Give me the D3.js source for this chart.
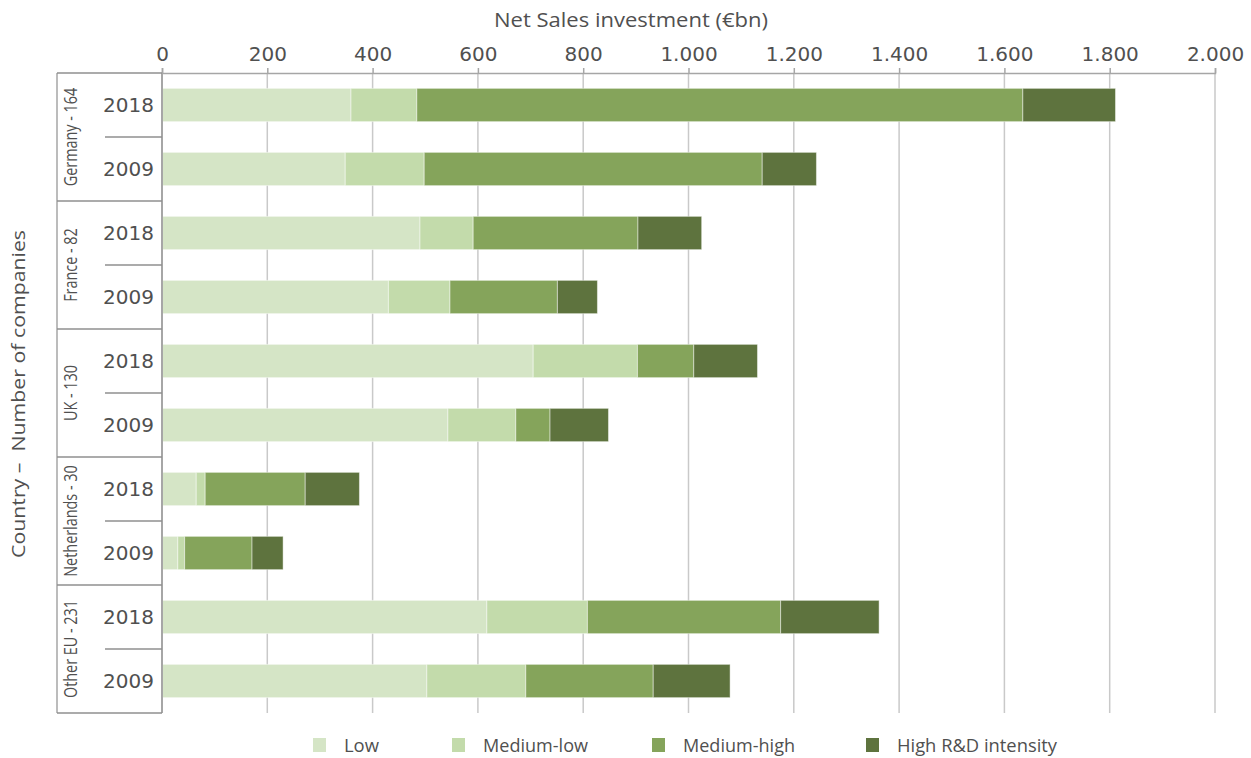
<!DOCTYPE html>
<html>
<head>
<meta charset="utf-8">
<script src="https://cdn.jsdelivr.net/npm/d3@7"></script>
<style>
  html, body { margin: 0; padding: 0; background: #fff; }
  svg { display: block; }
</style>
</head>
<body>
<svg id="chart" width="1251" height="758"></svg>
<script>
// ---- data ----
const countries = ["Germany - 164", "France - 82", "UK - 130", "Netherlands - 30", "Other EU - 231"];
const years = ["2018", "2009"];
const series = ["Low", "Medium-low", "Medium-high", "High R&D intensity"];
const low        = [359, 348, 490, 430, 705, 543, 65, 30, 617, 503];
const mediumLow  = [125, 150, 101, 117, 198, 129, 17, 13, 191, 188];
const mediumHigh = [1151, 642, 313, 204, 107, 65, 190, 128, 367, 242];
const high       = [176, 103, 121, 76, 121, 111, 103, 59, 187, 146];
const xTicks = [0, 200, 400, 600, 800, 1000, 1200, 1400, 1600, 1800, 2000];
const colors = ["#d5e5c6", "#c3dbab", "#85a45b", "#5e733e"];

(function () {
const rows = [];
countries.forEach((c, ci) => {
  years.forEach((yr, yi) => {
    const i = ci * 2 + yi;
    rows.push({ id: i, country: c, year: yr, Low: low[i], "Medium-low": mediumLow[i], "Medium-high": mediumHigh[i], "High R&D intensity": high[i] });
  });
});

const svg = d3.select("#chart");
const pL = 162, pR = 1215, pT = 73, pB = 713;
const txt = "#505050";
const numFont = "'DejaVu Sans', sans-serif";
const sansFont = "'Open Sans', sans-serif";

const x = d3.scaleLinear().domain([0, 2000]).range([pL, pR]);
const y = d3.scaleBand().domain(rows.map(r => r.id)).range([pT, pB]).paddingInner(0.48).paddingOuter(0.24);
const color = d3.scaleOrdinal().domain(series).range(colors);

// gridlines
svg.append("g").selectAll("line").data(xTicks.filter(t => t > 0)).join("line")
  .attr("x1", d => x(d)).attr("x2", d => x(d))
  .attr("y1", pT).attr("y2", pB)
  .attr("stroke", "#c9c9c9").attr("stroke-width", 1.5);

// stacked bars
const stack = d3.stack().keys(series)(rows);
svg.append("g").selectAll("g").data(stack).join("g")
  .attr("fill", d => color(d.key))
  .selectAll("rect").data(d => d).join("rect")
  .attr("x", d => x(d[0]))
  .attr("width", d => x(d[1]) - x(d[0]))
  .attr("y", d => y(d.data.id))
  .attr("height", y.bandwidth())
  .attr("stroke", "rgba(255,255,255,0.45)")
  .attr("stroke-width", 1);

// top axis
const xAxis = d3.axisTop(x).tickValues(xTicks).tickSize(5).tickPadding(7)
  .tickFormat(d => d3.format(",")(d).replace(/,/g, "."));
const gx = svg.append("g").attr("transform", `translate(0,${pT})`).call(xAxis);
gx.select(".domain").attr("stroke", "#a6a6a6").attr("stroke-width", 1.5);
gx.selectAll(".tick line").attr("stroke", "#a6a6a6").attr("stroke-width", 1.5);
gx.selectAll(".tick text").attr("fill", txt).attr("font-family", numFont).attr("font-size", 20);

// x title
svg.append("text").attr("x", 631).attr("y", 27)
  .attr("text-anchor", "middle").attr("fill", txt)
  .attr("font-family", sansFont).attr("font-size", 20)
  .attr("textLength", 274).attr("lengthAdjust", "spacingAndGlyphs")
  .text("Net Sales investment (€bn)");

// axis lines on the left
svg.append("line").attr("x1", pL).attr("x2", pL).attr("y1", pT).attr("y2", pB)
  .attr("stroke", "#a6a6a6").attr("stroke-width", 2);
svg.append("line").attr("x1", 57).attr("x2", 57).attr("y1", pT).attr("y2", pB)
  .attr("stroke", "#a6a6a6").attr("stroke-width", 1.5);

// category separators
const step = y.step();
const groupBounds = d3.range(countries.length + 1).map(i => y(i * 2) - y.paddingInner() * step / 2);
groupBounds[0] = pT; groupBounds[groupBounds.length - 1] = pB;
svg.append("g").selectAll("line").data(groupBounds).join("line")
  .attr("x1", 57).attr("x2", pL).attr("y1", d => d).attr("y2", d => d)
  .attr("stroke", "#8f8f8f").attr("stroke-width", 1.5);
const innerBounds = d3.range(countries.length).map(i => y(i * 2 + 1) - y.paddingInner() * step / 2);
svg.append("g").selectAll("line").data(innerBounds).join("line")
  .attr("x1", 105).attr("x2", pL).attr("y1", d => d).attr("y2", d => d)
  .attr("stroke", "#8f8f8f").attr("stroke-width", 1.5);

// year labels
svg.append("g").selectAll("text").data(rows).join("text")
  .attr("x", 154).attr("y", d => y(d.id) + y.bandwidth() / 2)
  .attr("dy", "0.36em").attr("text-anchor", "end")
  .attr("fill", txt).attr("font-family", numFont).attr("font-size", 20)
  .text(d => d.year);

// country labels (rotated, condensed)
svg.append("g").selectAll("text").data(countries).join("text")
  .attr("transform", (d, i) => {
    const cy = (groupBounds[i] + groupBounds[i + 1]) / 2;
    return `translate(77,${cy}) rotate(-90) scale(0.8,1)`;
  })
  .attr("text-anchor", "middle")
  .attr("fill", txt).attr("font-family", sansFont).attr("font-size", 18)
  .text(d => d);

// y title
svg.append("text").attr("transform", `translate(25,${(pT + pB) / 2 + 1}) rotate(-90)`)
  .attr("text-anchor", "middle").attr("fill", txt)
  .attr("font-family", sansFont).attr("font-size", 19)
  .attr("xml:space", "preserve")
  .attr("textLength", 328).attr("lengthAdjust", "spacingAndGlyphs")
  .text("Country –  Number of companies");

// legend
const legendX = [313, 452, 652, 866];
const legendW = [35, 105, 112, 160];
const lg = svg.append("g").selectAll("g").data(series).join("g")
  .attr("transform", (d, i) => `translate(${legendX[i]},738)`);
lg.append("rect").attr("width", 13).attr("height", 14).attr("fill", d => color(d));
lg.append("text").attr("x", 31).attr("y", 7).attr("dy", "0.36em")
  .attr("fill", txt).attr("font-family", sansFont).attr("font-size", 19)
  .attr("textLength", (d, i) => legendW[i]).attr("lengthAdjust", "spacingAndGlyphs")
  .text(d => d);
})();
</script>
</body>
</html>
